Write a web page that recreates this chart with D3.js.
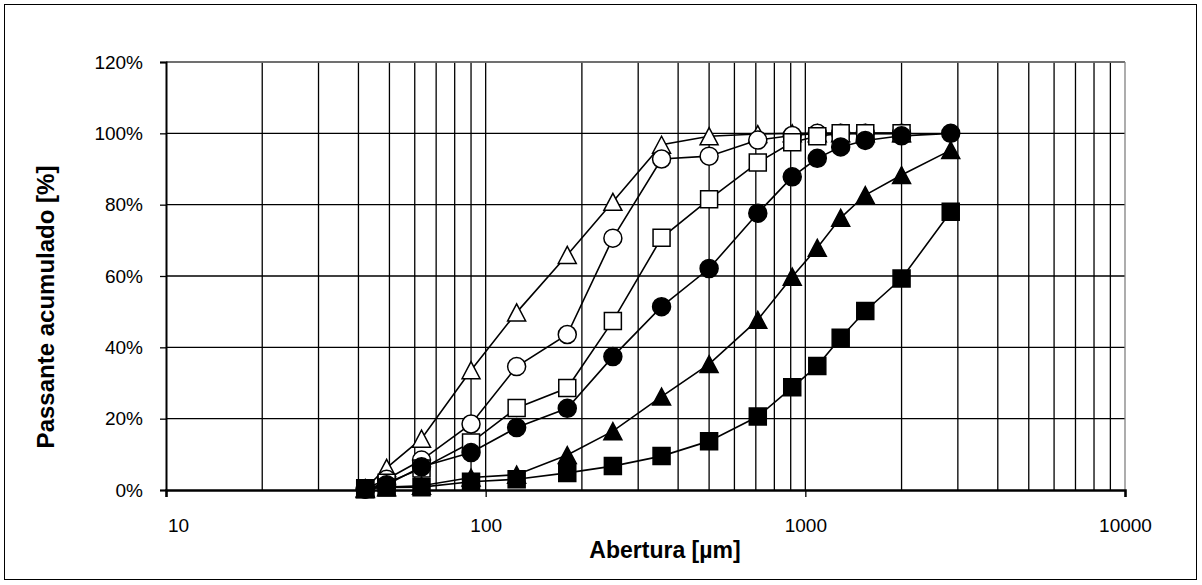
<!DOCTYPE html>
<html>
<head>
<meta charset="utf-8">
<script src="https://cdn.jsdelivr.net/npm/d3@7"></script>
<style>
  html, body { margin: 0; padding: 0; background: #fff; }
  svg { display: block; }
  text { font-family: "Liberation Sans", Arial, sans-serif; fill: #000; }
</style>
</head>
<body>
<div id="chart"></div>
<script>
// Sieve apertures [µm]
const apertures = [42, 49, 63, 90, 125, 180, 250, 355, 500, 710, 910, 1090, 1290, 1540, 2000, 2850];

// Cumulative passing [%] per sample
const openTriangle   = [0.5, 6.2, 14.4, 33.6, 49.8, 65.9, 80.8, 96.8, 99.2, 99.8, 100, 100, 100, 100, 100];
const openCircle     = [0.3, 3.0, 8.4, 18.5, 34.6, 43.6, 70.6, 92.8, 93.6, 98.1, 99.4, 100, 100, 100, 100];
const openSquare     = [0.2, 2.0, 6.0, 13.3, 23.0, 28.6, 47.4, 70.7, 81.5, 91.8, 97.5, 99.2, 100, 100, 100];
const filledCircle   = [0.2, 1.5, 6.5, 10.5, 17.5, 22.9, 37.4, 51.4, 62.1, 77.6, 87.8, 93.0, 96.2, 98.0, 99.3, 100];
const filledTriangle = [0.3, 0.8, 1.2, 3.5, 4.3, 9.8, 16.5, 26.2, 35.3, 47.7, 59.8, 67.9, 76.3, 82.7, 88.3, 95.3];
const filledSquare   = [0.5, 0.7, 0.8, 2.3, 3.0, 4.8, 6.7, 9.5, 13.7, 20.6, 28.8, 34.8, 42.7, 50.2, 59.3, 78.0];

const yTicks = [0, 20, 40, 60, 80, 100, 120];
const xTicks = [10, 100, 1000, 10000];
const xTitle = "Abertura [µm]";
const yTitle = "Passante acumulado  [%]";

const series = [
  { values: openTriangle,   shape: "triangle", filled: false },
  { values: openCircle,     shape: "circle",   filled: false },
  { values: openSquare,     shape: "square",   filled: false },
  { values: filledCircle,   shape: "circle",   filled: true },
  { values: filledTriangle, shape: "triangle", filled: true },
  { values: filledSquare,   shape: "square",   filled: true }
];

const W = 1202, H = 585;
const L = 166, R = 1125, T = 62, B = 490;

const svg = d3.select("#chart").append("svg").attr("width", W).attr("height", H);

// outer border
svg.append("rect").attr("x", 4.5).attr("y", 4.5).attr("width", 1192).attr("height", 575)
  .attr("fill", "#fff").attr("stroke", "#000").attr("stroke-width", 1);

const x = d3.scaleLog().domain([10, 10000]).range([L, R]);
const y = d3.scaleLinear().domain([0, 120]).range([B, T]);

// grid
const grid = svg.append("g");
grid.selectAll("line.v").data(x.ticks().filter(d => d > 10 && d < 10000)).join("line")
  .attr("x1", d => x(d)).attr("x2", d => x(d)).attr("y1", T).attr("y2", B)
  .attr("stroke", "#000").attr("stroke-width", 1.3);
grid.selectAll("line.h").data(yTicks.filter(d => d > 0)).join("line")
  .attr("x1", L).attr("x2", R).attr("y1", d => y(d)).attr("y2", d => y(d))
  .attr("stroke", "#000").attr("stroke-width", 1.3);
// plot border right/top
svg.append("line").attr("x1", R).attr("x2", R).attr("y1", T).attr("y2", B)
  .attr("stroke", "#808080").attr("stroke-width", 1.3);
svg.append("line").attr("x1", L).attr("x2", R).attr("y1", T).attr("y2", T)
  .attr("stroke", "#808080").attr("stroke-width", 1.3);

// axes
const yAxis = svg.append("g").attr("transform", `translate(${L},0)`)
  .call(d3.axisLeft(y).tickValues(yTicks).tickFormat(d => d + "%").tickSize(6).tickPadding(17));
const xAxis = svg.append("g").attr("transform", `translate(0,${B})`)
  .call(d3.axisBottom(x).tickValues(xTicks).tickFormat(d3.format("d")).tickSize(7).tickPadding(22));
[yAxis, xAxis].forEach(a => {
  a.select(".domain").attr("stroke", "#000").attr("stroke-width", 2);
  a.selectAll(".tick line").attr("stroke", "#000").attr("stroke-width", 1.3);
  a.selectAll(".tick text").attr("font-size", 19).attr("font-family", "Liberation Sans, Arial, sans-serif");
});
xAxis.select(".domain").attr("stroke-width", 2.5);
xAxis.selectAll(".tick text").filter(d => d === 10).attr("dx", 12);

// titles
svg.append("text").attr("x", 665).attr("y", 558).attr("text-anchor", "middle")
  .attr("font-size", 23).attr("font-weight", "bold").text(xTitle);
svg.append("text").attr("transform", "translate(54,307) rotate(-90)").attr("text-anchor", "middle")
  .attr("font-size", 24).attr("font-weight", "bold").text(yTitle);

// series
const line = d3.line().x(d => x(d[0])).y(d => y(d[1]));
const plot = svg.append("g");
function shapePath(shape) {
  if (shape === "triangle") return "M0,-8.5L9,8.5L-9,8.5Z";
  if (shape === "square") return "M-8.5,-8.5H8.5V8.5H-8.5Z";
  return d3.symbol(d3.symbolCircle, Math.PI * 9 * 9)();
}
series.forEach(s => {
  const pts = s.values.map((v, i) => [apertures[i], v]);
  const g = plot.append("g");
  g.append("path").attr("d", line(pts)).attr("fill", "none").attr("stroke", "#000").attr("stroke-width", 1.6);
  g.selectAll("path.m").data(pts).join("path").attr("class", "m")
    .attr("transform", d => `translate(${x(d[0])},${y(d[1])})`)
    .attr("d", shapePath(s.shape))
    .attr("fill", s.filled ? "#000" : "#fff")
    .attr("stroke", "#000").attr("stroke-width", 1.5);
});
</script>
</body>
</html>
